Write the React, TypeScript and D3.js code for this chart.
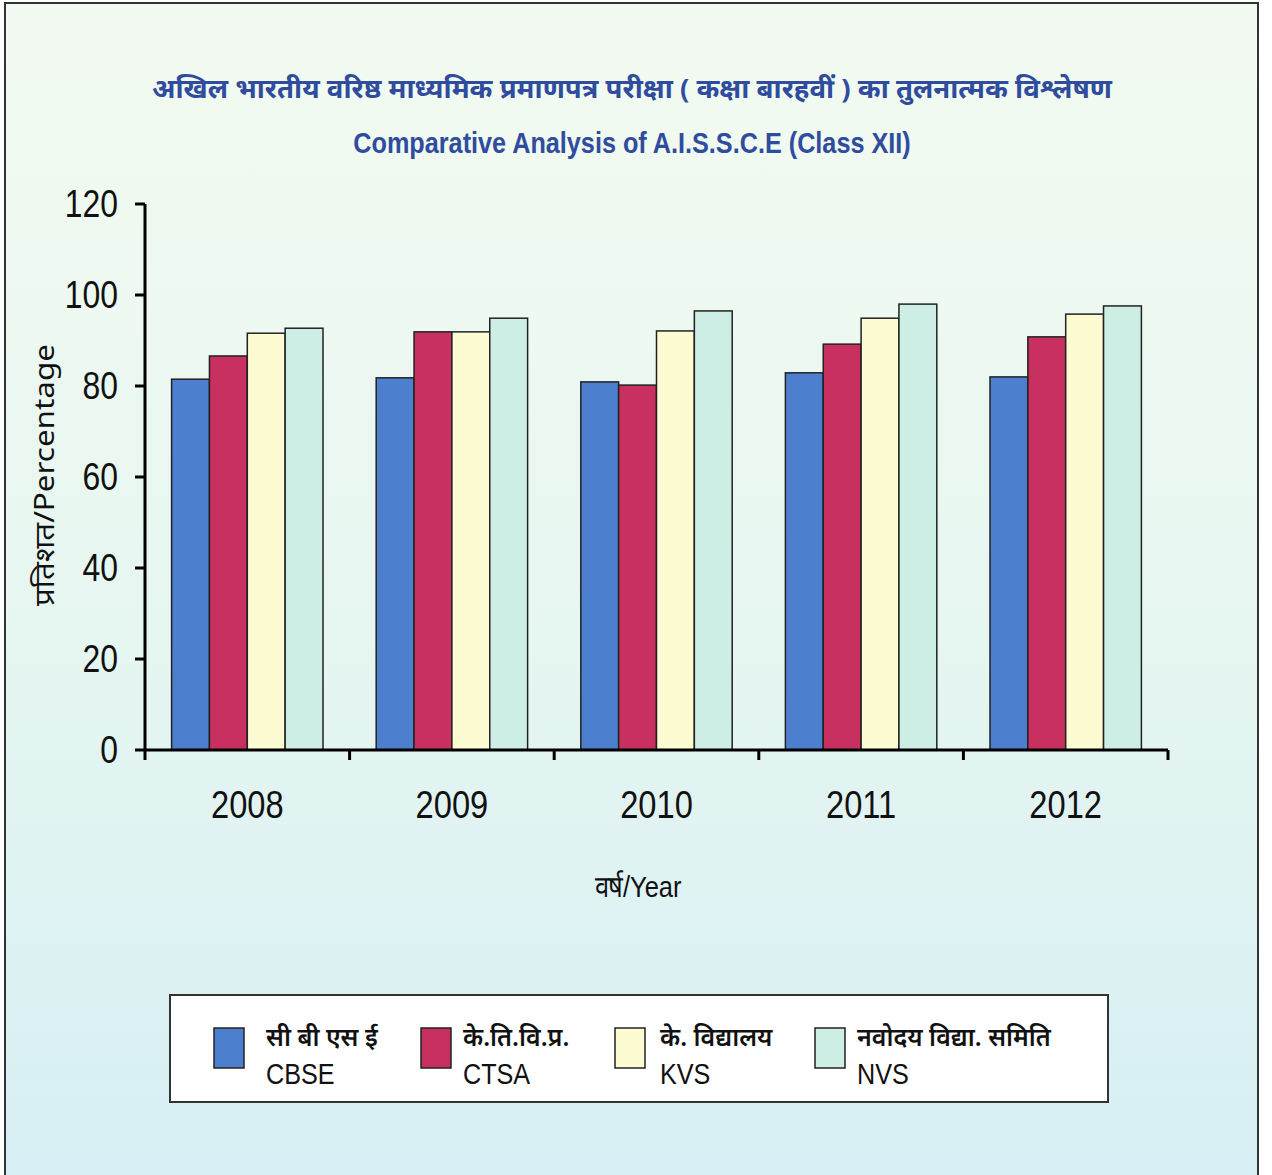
import React from "react";
import * as d3 from "d3";

const years = ["2008", "2009", "2010", "2011", "2012"];
const seriesKeys = ["CBSE", "CTSA", "KVS", "NVS"];
const seriesHindi = ["सी बी एस ई", "के.ति.वि.प्र.", "के. विद्यालय", "नवोदय विद्या. समिति"];
const seriesColors = ["#4d7fcf", "#c7305f", "#fdfbd2", "#cdeee4"];
const cbse = [81.5, 81.8, 80.9, 82.9, 82.0];
const ctsa = [86.6, 91.9, 80.2, 89.2, 90.8];
const kvs = [91.6, 91.9, 92.1, 94.9, 95.8];
const nvs = [92.7, 94.9, 96.5, 98.0, 97.6];
const yTicks = [0, 20, 40, 60, 80, 100, 120];

const titleHindi = "अखिल भारतीय वरिष्ठ माध्यमिक प्रमाणपत्र परीक्षा ( कक्षा बारहवीं ) का तुलनात्मक विश्लेषण";
const titleEnglish = "Comparative Analysis of A.I.S.S.C.E (Class XII)";

const W = 1272;
const H = 1175;
const plot = { left: 145, right: 1168, top: 204, bottom: 750 };
const sans = "'Liberation Sans', Arial, sans-serif";
const deva = "'Noto Sans', sans-serif";
const titleBlue = "#2f4c9e";

// legend layout (swatch x, text x)
const legendSwatchX = [214, 421, 615, 815];
const legendTextX = [266, 463, 660, 857];

// condensed text: squeeze horizontally around the anchor point
const NText = ({ x, y, sx = 0.85, children, ...rest }: any) => (
  <g transform={`translate(${x},${y}) scale(${sx},1)`}>
    <text x={0} y={0} {...rest}>{children}</text>
  </g>
);

const App = () => {
  const values = [cbse, ctsa, kvs, nvs];

  const x = d3.scaleBand().domain(years).range([plot.left, plot.right]).paddingInner(0.26).paddingOuter(0.13);
  const xSub = d3.scaleBand().domain(seriesKeys).range([0, x.bandwidth()]);
  const y = d3.scaleLinear().domain([0, 120]).range([plot.bottom, plot.top]);
  const step = (plot.right - plot.left) / years.length;
  const xTickPos = d3.range(years.length + 1).map(i => plot.left + i * step);

  return (
    <svg width={W} height={H} style={{ position: "absolute", left: 0, top: 0 }}>
      <defs>
        <linearGradient id="bg" x1="0" y1="0" x2="0" y2="1">
          <stop offset="0%" stopColor="#f3fbf1" />
          <stop offset="55%" stopColor="#e6f6f1" />
          <stop offset="100%" stopColor="#d6eff4" />
        </linearGradient>
      </defs>
      <rect x={0} y={0} width={W} height={H} fill="#ffffff" />
      <rect x={5} y={3} width={1253} height={H} fill="url(#bg)" stroke="#333" strokeWidth={2} />

      <text x={632} y={98} textAnchor="middle" fontFamily={deva} fontWeight="bold" fontSize={27} fill={titleBlue}
        textLength={960} lengthAdjust="spacingAndGlyphs">{titleHindi}</text>
      <NText x={632} y={153} sx={0.87} textAnchor="middle" fontFamily={sans} fontWeight="bold" fontSize={29} fill={titleBlue}>{titleEnglish}</NText>

      {years.map((yr, i) => (
        <g key={yr} transform={`translate(${x(yr)},0)`}>
          {seriesKeys.map((k, j) => (
            <rect key={k} x={xSub(k)} y={y(values[j][i])} width={xSub.bandwidth()}
              height={plot.bottom - y(values[j][i])} fill={seriesColors[j]} stroke="#222" strokeWidth={1.5} />
          ))}
        </g>
      ))}

      <line x1={plot.left} x2={plot.left} y1={plot.top} y2={plot.bottom} stroke="#000" strokeWidth={3} />
      <line x1={plot.left} x2={plot.right} y1={plot.bottom} y2={plot.bottom} stroke="#000" strokeWidth={3} />
      {yTicks.map(t => (
        <g key={t}>
          <line x1={plot.left - 10} x2={plot.left} y1={y(t)} y2={y(t)} stroke="#000" strokeWidth={3} />
          <NText x={118} y={y(t)} sx={0.84} dy="0.35em" textAnchor="end" fontFamily={sans} fontSize={38} fill="#111">{t}</NText>
        </g>
      ))}
      {xTickPos.map((p, i) => (
        <line key={i} x1={p} x2={p} y1={plot.bottom} y2={plot.bottom + 10} stroke="#000" strokeWidth={3} />
      ))}
      {years.map(yr => (
        <NText key={yr} x={x(yr)! + x.bandwidth() / 2} y={805} sx={0.86} dy="0.35em" textAnchor="middle" fontFamily={sans} fontSize={38} fill="#111">{yr}</NText>
      ))}

      <text transform="translate(54,475) rotate(-90)" textAnchor="middle" fontFamily={deva} fontSize={27} fill="#111"
        textLength={262} lengthAdjust="spacingAndGlyphs">प्रतिशत/Percentage</text>
      <NText x={638} y={886} sx={0.85} dy="0.35em" textAnchor="middle" fontFamily={sans} fontSize={30} fill="#111">वर्ष/Year</NText>

      <rect x={170} y={995} width={938} height={107} fill="#ffffff" stroke="#333" strokeWidth={2} />
      {seriesKeys.map((k, j) => (
        <g key={k}>
          <rect x={legendSwatchX[j]} y={1028} width={30} height={40} fill={seriesColors[j]} stroke="#222" strokeWidth={1.5} />
          <text x={legendTextX[j]} y={1046} fontFamily={deva} fontWeight="600" fontSize={25} fill="#111">{seriesHindi[j]}</text>
          <NText x={legendTextX[j]} y={1084} sx={0.84} fontFamily={sans} fontSize={30} fill="#111">{k}</NText>
        </g>
      ))}
    </svg>
  );
};

export default App;
